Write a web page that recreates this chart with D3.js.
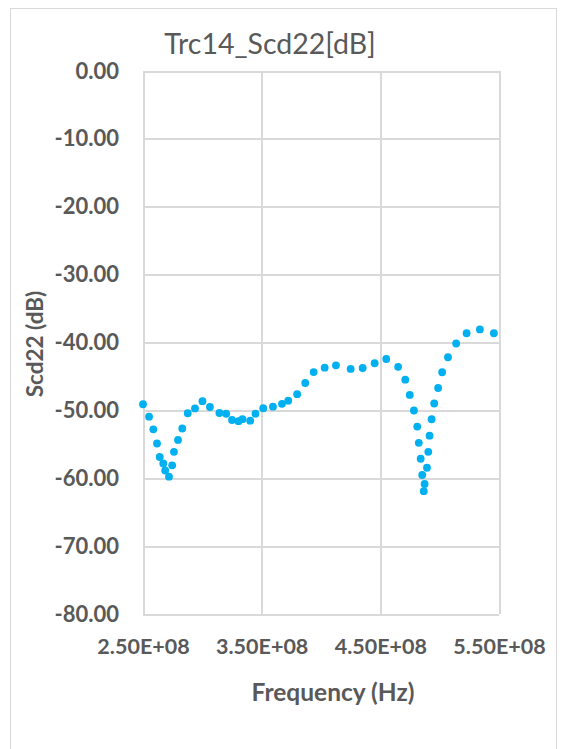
<!DOCTYPE html>
<html>
<head>
<meta charset="utf-8">
<script src="https://cdn.jsdelivr.net/npm/d3@7"></script>
<style>
  html, body { margin: 0; padding: 0; background: #fff; }
  svg { display: block; }
  text { font-family: Lato, "Open Sans", sans-serif; fill: #595959; }
</style>
</head>
<body>
<svg id="chart" width="565" height="749"></svg>
<script>
// Sweep frequencies (MHz) and measured Scd22 (dB)
const freqMHz = [
  250.0, 255.1, 258.7, 261.8, 264.1, 267.1, 268.7, 271.9, 274.6, 276.1,
  279.5, 283.1, 287.7, 293.8, 300.1, 306.4, 314.4, 320.1, 325.0, 330.5,
  333.8, 340.3, 344.8, 351.3, 359.5, 367.1, 372.4, 379.9, 386.7, 393.8,
  403.1, 412.6, 425.0, 435.1, 445.2, 455.0, 465.0, 471.0, 474.8, 478.3,
  481.1, 482.4, 484.0, 485.3, 486.6, 487.3, 489.3, 490.4, 491.5, 493.2,
  495.4, 498.7, 502.1, 507.0, 513.9, 522.7, 533.9, 545.7
];
const scd22 = [
  -49.10, -50.93, -52.79, -54.88, -56.87, -57.83, -58.86, -59.77, -58.09, -56.10,
  -54.36, -52.67, -50.42, -49.72, -48.65, -49.50, -50.39, -50.50, -51.42, -51.59,
  -51.30, -51.52, -50.49, -49.69, -49.46, -49.03, -48.57, -47.62, -45.97, -44.35,
  -43.71, -43.36, -43.90, -43.76, -43.06, -42.43, -43.58, -45.48, -47.73, -50.02,
  -52.38, -54.78, -57.13, -59.52, -61.91, -60.85, -58.45, -56.10, -53.73, -51.31,
  -48.99, -46.70, -44.38, -42.17, -40.15, -38.64, -38.08, -38.64
];

// Axis ticks and their printed labels
const xTicks = [2.5e8, 3.5e8, 4.5e8, 5.5e8];
const xTickLabels = ["2.50E+08", "3.50E+08", "4.50E+08", "5.50E+08"];
const yTicks = [0, -10, -20, -30, -40, -50, -60, -70, -80];
const yTickLabels = ["0.00", "-10.00", "-20.00", "-30.00", "-40.00", "-50.00", "-60.00", "-70.00", "-80.00"];

const titleText = "Trc14_Scd22[dB]";
const xTitle = "Frequency (Hz)";
const yTitle = "Scd22 (dB)";

const svg = d3.select("#chart");
const plot = { left: 143, right: 499, top: 71, bottom: 614 };
const gridColor = "#D9D9D9";

// Chart frame
svg.append("rect")
  .attr("x", 10.5).attr("y", 8.5)
  .attr("width", 546).attr("height", 760)
  .attr("fill", "#fff")
  .attr("stroke", gridColor).attr("stroke-width", 1);

const x = d3.scaleLinear().domain([2.5e8, 5.5e8]).range([plot.left, plot.right]);
const y = d3.scaleLinear().domain([0, -80]).range([plot.top, plot.bottom]);

// Horizontal gridlines with Y labels
const yAxis = d3.axisLeft(y)
  .tickValues(yTicks)
  .tickSize(-(plot.right - plot.left))
  .tickPadding(24)
  .tickFormat((d, i) => yTickLabels[i]);

const gy = svg.append("g")
  .attr("transform", `translate(${plot.left},0)`)
  .call(yAxis);
gy.select(".domain").remove();
gy.selectAll(".tick line").attr("stroke", gridColor).attr("stroke-width", 2).attr("shape-rendering", "crispEdges");
gy.selectAll(".tick text")
  .attr("font-size", 22).attr("font-weight", 700)
  .attr("fill", "#595959").attr("font-family", "Lato, 'Open Sans', sans-serif");

// Vertical gridlines with X labels
const xAxis = d3.axisBottom(x)
  .tickValues(xTicks)
  .tickSize(-(plot.bottom - plot.top))
  .tickPadding(25)
  .tickFormat((d, i) => xTickLabels[i]);

const gx = svg.append("g")
  .attr("transform", `translate(0,${plot.bottom})`)
  .call(xAxis);
gx.select(".domain").remove();
gx.selectAll(".tick line").attr("stroke", gridColor).attr("stroke-width", 2).attr("shape-rendering", "crispEdges");
gx.selectAll(".tick text")
  .attr("font-size", 21.5).attr("font-weight", 700)
  .attr("fill", "#595959").attr("font-family", "Lato, 'Open Sans', sans-serif");

// Measurement points
const points = freqMHz.map((f, i) => ({ f: f * 1e6, v: scd22[i] }));
svg.append("g")
  .selectAll("circle")
  .data(points)
  .join("circle")
  .attr("cx", d => x(d.f))
  .attr("cy", d => y(d.v))
  .attr("r", 3.9)
  .attr("fill", "#00B0F0");

// Titles
svg.append("text")
  .attr("x", 270).attr("y", 54)
  .attr("text-anchor", "middle")
  .attr("font-size", 28.5)
  .text(titleText);

svg.append("text")
  .attr("x", 333).attr("y", 701)
  .attr("text-anchor", "middle")
  .attr("font-size", 24.5).attr("font-weight", 700)
  .text(xTitle);

svg.append("text")
  .attr("transform", "translate(43,344) rotate(-90)")
  .attr("text-anchor", "middle")
  .attr("font-size", 22.5).attr("font-weight", 700)
  .text(yTitle);
</script>
</body>
</html>
